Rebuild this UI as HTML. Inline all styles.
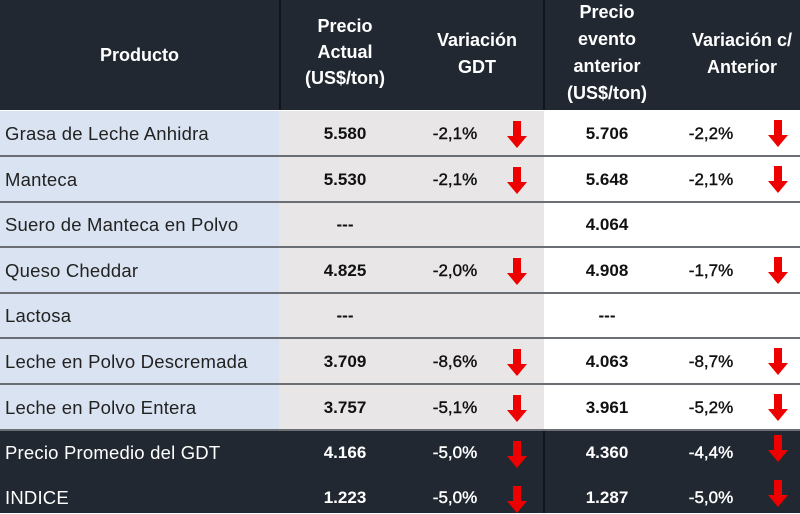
<!DOCTYPE html>
<html><head><meta charset="utf-8"><style>
body{margin:0;width:800px;height:513px;overflow:hidden;background:#fff;font-family:"Liberation Sans",sans-serif;}
#t{position:relative;width:800px;height:513px;}
.c{position:absolute;box-sizing:border-box;}
.h{background:#222831;color:#fff;font-weight:bold;font-size:18px;line-height:27px;text-align:center;display:flex;align-items:center;justify-content:center;}
.txt{position:absolute;white-space:nowrap;transform:translate(-50%,-50%);font-weight:bold;font-size:17px;}
.hd{font-size:18px;}
.prod{position:absolute;left:5px;transform:translateY(-50%);font-size:18.5px;letter-spacing:0.2px;white-space:nowrap;color:#222;}
.line{position:absolute;left:0;width:800px;height:2px;background:#6b6e73;}
svg.ar{position:absolute;}
</style></head><body>
<div id="t">
<div class="c h" style="left:0;top:0;width:279px;height:110px">Producto</div>
<div class="c h" style="left:279px;top:0;width:265px;height:110px;background:#222831"></div>
<div class="c h" style="left:544px;top:0;width:256px;height:110px"></div>
<div style="position:absolute;left:279px;top:0;width:2px;height:110px;background:#11151b"></div>
<div style="position:absolute;left:543px;top:0;width:2px;height:110px;background:#11151b"></div>
<div class="txt hd" style="left:345px;top:52px;color:#fff;text-align:center;line-height:26px">Precio<br>Actual<br>(US$/ton)</div>
<div class="txt hd" style="left:477px;top:54px;color:#fff;text-align:center;line-height:27px">Variación<br>GDT</div>
<div class="txt hd" style="left:607px;top:53px;color:#fff;text-align:center;line-height:27px">Precio<br>evento<br>anterior<br>(US$/ton)</div>
<div class="txt hd" style="left:742px;top:54px;color:#fff;text-align:center;line-height:27px">Variación c/<br>Anterior</div>
</div>
<script>
const products=["Grasa de Leche Anhidra","Manteca","Suero de Manteca en Polvo","Queso Cheddar","Lactosa","Leche en Polvo Descremada","Leche en Polvo Entera","Precio Promedio del GDT","INDICE"];
const precioActual=["5.580","5.530","---","4.825","---","3.709","3.757","4.166","1.223"];
const varGDT=["-2,1%","-2,1%","","-2,0%","","-8,6%","-5,1%","-5,0%","-5,0%"];
const precioAnterior=["5.706","5.648","4.064","4.908","---","4.063","3.961","4.360","1.287"];
const varAnterior=["-2,2%","-2,1%","","-1,7%","","-8,7%","-5,2%","-4,4%","-5,0%"];
const t=document.getElementById('t');
const tops=[111,157,203,248,294,339,385,431,476];
const bots=[156,202,247,293,338,384,430,476,513];
function div(cls,style,html){const d=document.createElement('div');d.className=cls;d.style.cssText=style;if(html!==undefined)d.innerHTML=html;t.appendChild(d);return d;}
function arrow(x,y){const ns='http://www.w3.org/2000/svg';const s=document.createElementNS(ns,'svg');s.setAttribute('class','ar');s.setAttribute('width','22');s.setAttribute('height','28');s.style.left=(x-11)+'px';s.style.top=(y-14)+'px';const p=document.createElementNS(ns,'path');p.setAttribute('d','M7 0H15V15H21L11 27L1 15H7Z');p.setAttribute('fill','#ee0000');s.appendChild(p);


t.appendChild(s);}
for(let i=0;i<products.length;i++){
  const y0=tops[i],h=bots[i]-tops[i],cy=(i>=7?tops[i]+22:y0+h/2),dark=i>=7;
  const b1=div('c','left:0;top:'+y0+'px;width:279px;height:'+h+'px;background:'+(dark?'#222831':'#dae3f1'));
  
  
  const b2=div('c','left:279px;top:'+y0+'px;width:265px;height:'+h+'px;background:'+(dark?'#222831':'#e8e6e6'));
  
  
  const b3=div('c','left:544px;top:'+y0+'px;width:256px;height:'+h+'px;background:'+(dark?'#222831':'#ffffff'));
  
  
  if(dark){const v=div('c','left:543px;top:'+y0+'px;width:2px;height:'+h+'px;background:#11151b');}
  const col=dark?'#fff':'#111';
  const p=div('prod','top:'+cy+'px;color:'+(dark?'#fff':'#222'),products[i]);
  
  
  const a=div('txt','left:345px;top:'+cy+'px;color:'+col,precioActual[i]);
  
  
  if(varGDT[i]){const v=div('txt','left:455px;top:'+cy+'px;font-weight:normal;-webkit-text-stroke:0.4px '+col+';color:'+col,varGDT[i]);
    
    
    arrow(517,cy+(dark?2:1));}
  const b=div('txt','left:607px;top:'+cy+'px;color:'+col,precioAnterior[i]);
  
  
  if(varAnterior[i]){const v=div('txt','left:711px;top:'+cy+'px;font-weight:normal;-webkit-text-stroke:0.4px '+col+';color:'+col,varAnterior[i]);
    
    
    arrow(778,cy+(dark?-4:0));}
  if(i<7){const l=div('line','top:'+(bots[i]-1)+'px');}
}
</script>
</body></html>
